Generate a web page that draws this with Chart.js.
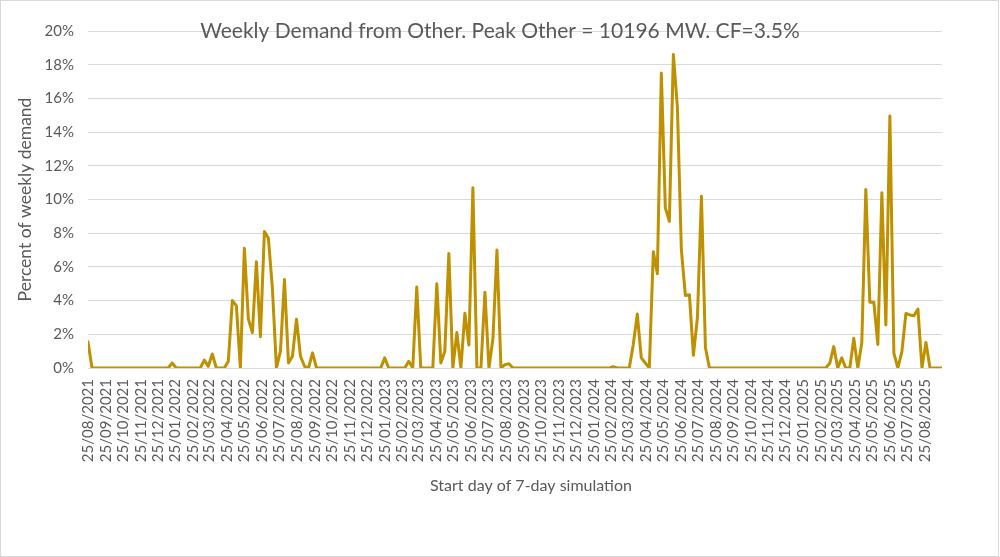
<!DOCTYPE html>
<html>
<head>
<meta charset="utf-8">
<script src="https://cdn.jsdelivr.net/npm/chart.js@4.4.1/dist/chart.umd.min.js"></script>
<style>
  body { margin: 0; background: #fff; }
  #wrap { position: relative; width: 1000px; height: 557px; }
  #frame { position: absolute; left: 0; top: 0; width: 997px; height: 555px; border: 1px solid #d9d9d9; pointer-events: none; }
</style>
</head>
<body>
<div id="wrap">
  <canvas id="otherDemand" width="1000" height="557"></canvas>
  <div id="frame"></div>
</div>
<script>
// first week of the simulation, one point per 7 days after it
const startDate = '25/08/2021';

const monthLabels = [
  '25/08/2021', '25/09/2021', '25/10/2021', '25/11/2021', '25/12/2021',
  '25/01/2022', '25/02/2022', '25/03/2022', '25/04/2022', '25/05/2022', '25/06/2022',
  '25/07/2022', '25/08/2022', '25/09/2022', '25/10/2022', '25/11/2022', '25/12/2022',
  '25/01/2023', '25/02/2023', '25/03/2023', '25/04/2023', '25/05/2023', '25/06/2023',
  '25/07/2023', '25/08/2023', '25/09/2023', '25/10/2023', '25/11/2023', '25/12/2023',
  '25/01/2024', '25/02/2024', '25/03/2024', '25/04/2024', '25/05/2024', '25/06/2024',
  '25/07/2024', '25/08/2024', '25/09/2024', '25/10/2024', '25/11/2024', '25/12/2024',
  '25/01/2025', '25/02/2025', '25/03/2025', '25/04/2025', '25/05/2025', '25/06/2025',
  '25/07/2025', '25/08/2025'
];

// percent of weekly demand, one value per week
const otherPct = [
  1.55, 0, 0, 0, 0, 0, 0, 0, 0, 0,
  0, 0, 0, 0, 0, 0, 0, 0, 0, 0,
  0, 0.3, 0, 0, 0, 0, 0, 0, 0, 0.47,
  0.1, 0.83, 0, 0, 0, 0.4, 4.0, 3.7, 0, 7.1,
  2.9, 2.1, 6.3, 1.86, 8.1, 7.7, 4.7, 0, 1.0, 5.25,
  0.3, 0.7, 2.9, 0.7, 0.1, 0, 0.9, 0, 0, 0,
  0, 0, 0, 0, 0, 0, 0, 0, 0, 0,
  0, 0, 0, 0, 0.6, 0, 0, 0, 0, 0,
  0.4, 0, 4.8, 0, 0, 0, 0, 5.0, 0.3, 1.0,
  6.8, 0, 2.1, 0, 3.25, 1.36, 10.7, 0, 0, 4.5,
  0, 1.75, 7.0, 0, 0.2, 0.25, 0, 0, 0, 0,
  0, 0, 0, 0, 0, 0, 0, 0, 0, 0,
  0, 0, 0, 0, 0, 0, 0, 0, 0, 0,
  0, 0.08, 0, 0, 0, 0, 1.4, 3.2, 0.6, 0.3,
  0, 6.9, 5.6, 17.5, 9.5, 8.7, 18.6, 15.5, 7.0, 4.3,
  4.35, 0.75, 3.0, 10.2, 1.2, 0, 0, 0, 0, 0,
  0, 0, 0, 0, 0, 0, 0, 0, 0, 0,
  0, 0, 0, 0, 0, 0, 0, 0, 0, 0,
  0, 0, 0, 0, 0, 0.28, 1.27, 0, 0.6, 0,
  0, 1.76, 0, 1.5, 10.6, 3.9, 3.9, 1.4, 10.4, 2.55,
  14.95, 0.87, 0, 0.97, 3.24, 3.15, 3.1, 3.5, 0, 1.52,
  0, 0, 0, 0
];

const chartTitle = 'Weekly Demand from Other. Peak Other = 10196 MW. CF=3.5%';
const xTitle = 'Start day of 7-day simulation';
const yTitle = 'Percent of weekly demand';
const textGrey = '#595959';
const fontName = 'Lato';

function dayOf(label) {
  let p = label.split('/');
  return Date.UTC(+p[2], +p[1] - 1, +p[0]) / 86400000;
}
const day0 = dayOf(startDate);
const tickDays = monthLabels.map(l => dayOf(l) - day0);
const points = otherPct.map((v, i) => ({ x: i * 7, y: v }));

// chart title sits inside the plot on the 20% gridline, x title a bit right of centre
const titleOverlay = {
  id: 'titleOverlay',
  afterDraw(chart) {
    let ctx = chart.ctx;
    ctx.save();
    ctx.fillStyle = textGrey;
    ctx.textAlign = 'center';
    ctx.textBaseline = 'middle';
    ctx.font = '21px ' + fontName;
    ctx.fillText(chartTitle, 500, 31);
    ctx.font = '16px ' + fontName;
    ctx.fillText(xTitle, 531, 486);
    ctx.restore();
  }
};

var ctx = document.getElementById('otherDemand').getContext('2d');

var otherChart = new Chart(ctx, {
  type: 'line',
  plugins: [titleOverlay],
  data: {
    datasets: [{
      data: points,
      borderColor: '#bf9000',
      borderWidth: 3,
      borderJoinStyle: 'round',
      borderCapStyle: 'round',
      pointRadius: 0,
      tension: 0,
      fill: false
    }]
  },
  options: {
    responsive: false,
    animation: false,
    layout: {
      padding: { left: 13, right: 58, top: 31, bottom: 60 }
    },
    plugins: {
      legend: { display: false },
      tooltip: { enabled: false }
    },
    scales: {
      x: {
        type: 'linear',
        min: 0,
        max: (otherPct.length - 1) * 7,
        afterBuildTicks: (scale) => {
          scale.ticks = tickDays.map(d => ({ value: d }));
        },
        afterFit: (scale) => { scale.height = 129; },
        grid: { display: false, drawTicks: false },
        border: { display: false },
        ticks: {
          autoSkip: false,
          minRotation: 90,
          maxRotation: 90,
          padding: 11,
          color: textGrey,
          font: { family: fontName, size: 15 },
          callback: (value) => monthLabels[tickDays.indexOf(value)]
        }
      },
      y: {
        min: 0,
        max: 20,
        afterFit: (scale) => { scale.width = 75; },
        grid: { color: '#d9d9d9', drawTicks: false },
        border: { display: false },
        ticks: {
          stepSize: 2,
          padding: 14,
          color: textGrey,
          font: { family: fontName, size: 15 },
          callback: (value) => value + '%'
        },
        title: {
          display: true,
          text: yTitle,
          color: textGrey,
          padding: 2,
          font: { family: fontName, size: 17.5 }
        }
      }
    }
  }
});
</script>
</body>
</html>
